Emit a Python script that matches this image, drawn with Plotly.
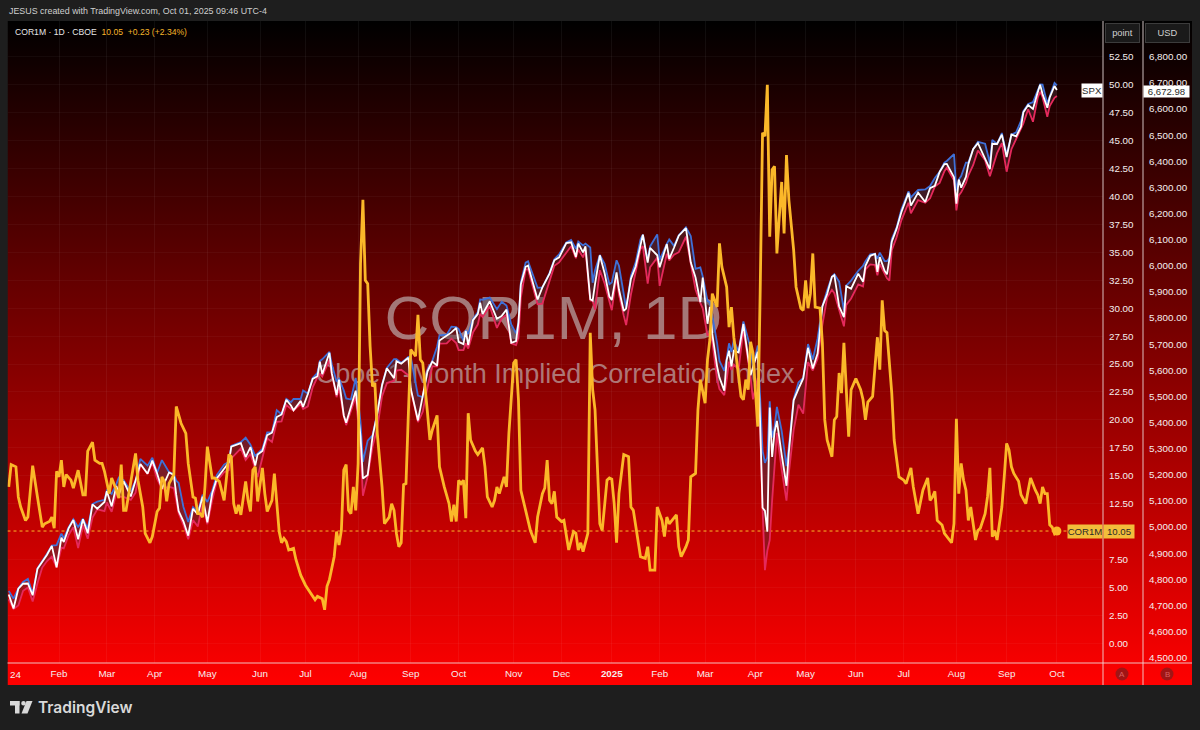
import base64
import pandas as pd
import plotly.graph_objects as go

# ---------------- DATA ----------------
holidays = ["2024-01-15", "2024-02-19", "2024-03-29", "2024-05-27", "2024-06-19", "2024-07-04",
            "2024-09-02", "2024-11-28", "2024-12-25", "2025-01-01", "2025-01-09", "2025-01-20",
            "2025-02-17", "2025-04-18", "2025-05-26", "2025-06-19", "2025-07-04", "2025-09-01"]
first_session = "2024-01-02"
last_session = "2025-10-01"

# COR1M: trading-session number (0 = 2024-01-02) and value (points)
cor1m_session = [
    0, 1, 3, 4, 5, 7, 8, 10, 12, 14,
    15, 17, 18, 19, 20, 21, 22, 23, 24, 26,
    27, 29, 31, 32, 33, 35, 36, 38, 39, 40,
    42, 43, 45, 46, 47, 48, 49, 51, 53, 54,
    56, 57, 59, 60, 62, 63, 64, 65, 66, 67,
    69, 70, 72, 74, 75, 77, 78, 79, 80, 81,
    82, 83, 84, 85, 86, 88, 90, 91, 92, 93,
    94, 95, 96, 97, 98, 99, 100, 101, 102, 103,
    104, 106, 107, 108, 110, 111, 113, 114, 115, 116,
    117, 119, 120, 122, 124, 126, 128, 129, 131, 132,
    133, 134, 136, 137, 138, 139, 140, 141, 142, 143,
    144, 145, 146, 147, 148, 149, 150, 151, 152, 153,
    154, 156, 157, 159, 160, 161, 162, 163, 164, 165,
    166, 167, 168, 170, 171, 172, 173, 175, 176, 177,
    179, 180, 182, 184, 185, 186, 187, 188, 189, 190,
    191, 192, 193, 195, 196, 198, 199, 200, 202, 203,
    204, 205, 207, 208, 209, 211, 212, 213, 214, 216,
    218, 220, 221, 223, 224, 225, 226, 227, 228, 229,
    231, 232, 233, 234, 236, 237, 238, 239, 240, 242,
    243, 244, 245, 246, 247, 248, 250, 251, 252, 253,
    254, 255, 256, 257, 259, 260, 261, 263, 264, 266,
    267, 268, 270, 271, 273, 274, 275, 276, 278, 279,
    280, 281, 283, 284, 285, 287, 288, 289, 291, 292,
    293, 294, 296, 297, 298, 300, 301, 302, 303, 305,
    306, 307, 308, 309, 310, 311, 312, 313, 314, 315,
    316, 317, 318, 319, 320, 321, 322, 323, 324, 325,
    326, 328, 329, 330, 331, 332, 333, 334, 335, 336,
    337, 339, 340, 341, 342, 344, 345, 346, 347, 348,
    349, 351, 352, 354, 356, 357, 358, 359, 361, 363,
    364, 365, 366, 367, 369, 370, 372, 374, 375, 377,
    378, 380, 382, 384, 385, 386, 387, 388, 390, 391,
    393, 394, 395, 396, 397, 398, 399, 400, 401, 402,
    404, 405, 406, 408, 409, 410, 411, 412, 413, 415,
    416, 417, 418, 419, 420, 422, 423, 425, 426, 427,
    429, 430, 431, 432, 433, 434, 435, 436, 437, 438,
]
cor1m_value = [
    14.0, 16.0, 15.8, 13.1, 12.2, 11.0, 11.3, 15.9, 13.1, 10.4,
    10.7, 10.9, 11.3, 10.3, 15.4, 14.9, 16.4, 14.0, 15.1, 14.6,
    13.9, 15.5, 13.3, 13.3, 17.2, 18.0, 16.4, 16.1, 16.1, 15.4,
    13.4, 14.8, 13.7, 13.0, 16.0, 11.9, 11.9, 14.6, 17.0, 14.6,
    12.2, 9.85, 9.0, 9.55, 11.8, 12.1, 14.9, 14.5, 12.7, 14.3,
    15.1, 21.2, 19.7, 18.8, 16.1, 13.1, 13.0, 11.6, 11.6, 11.3,
    14.0, 17.6, 16.0, 14.8, 14.8, 14.5, 12.8, 15.2, 16.9, 16.7,
    12.5, 11.6, 12.4, 11.5, 13.1, 14.5, 12.8, 11.8, 15.5, 15.8,
    12.7, 15.7, 13.4, 11.8, 12.8, 15.2, 10.0, 9.0, 9.4, 9.1,
    8.35, 8.5, 7.5, 6.1, 5.2, 4.5, 3.9, 4.2, 4.0, 3.0,
    5.1, 5.7, 7.75, 10.0, 8.8, 10.1, 15.5, 16.0, 11.9, 11.6,
    14.0, 11.9, 16.1, 34.0, 39.7, 32.5, 32.2, 26.6, 23.0, 23.3,
    18.8, 14.0, 10.7, 11.3, 12.5, 11.9, 9.85, 8.65, 9.0, 14.2,
    14.3, 20.6, 26.3, 25.7, 29.4, 25.4, 25.1, 20.6, 18.2, 19.1,
    20.4, 15.8, 14.0, 12.5, 10.9, 12.4, 10.9, 14.6, 14.3, 14.6,
    11.2, 20.6, 18.2, 17.2, 16.9, 17.5, 15.8, 13.1, 12.2, 12.8,
    14.0, 13.4, 14.9, 14.0, 18.8, 25.1, 25.4, 21.8, 13.7, 11.9,
    10.1, 9.0, 11.3, 13.4, 13.9, 16.4, 12.8, 12.5, 13.6, 11.3,
    10.9, 11.0, 9.85, 8.35, 10.0, 9.85, 8.35, 9.0, 8.2, 9.85,
    27.8, 22.7, 20.9, 16.1, 10.7, 10.1, 14.6, 14.8, 14.7, 12.5,
    9.0, 13.4, 15.2, 16.9, 16.7, 12.2, 11.9, 9.25, 7.75, 7.6,
    8.65, 6.55, 6.55, 12.2, 11.0, 9.55, 11.3, 10.7, 11.2, 11.5,
    8.65, 7.75, 8.65, 9.25, 14.9, 15.2, 20.9, 23.6, 21.5, 25.4,
    27.2, 31.3, 30.1, 35.8, 33.7, 31.9, 28.3, 30.1, 27.4, 23.6,
    22.1, 21.8, 23.6, 22.7, 27.0, 26.0, 22.4, 19.4, 31.3, 45.7,
    45.4, 50.0, 36.4, 42.4, 42.7, 34.9, 38.2, 41.3, 36.7, 43.7,
    39.7, 35.2, 31.9, 31.0, 30.0, 29.8, 32.5, 30.0, 31.3, 34.9,
    30.1, 30.0, 26.9, 20.0, 18.2, 16.7, 20.0, 20.3, 24.2, 22.4,
    26.9, 18.5, 22.7, 23.7, 22.7, 21.8, 20.0, 21.6, 22.1, 27.4,
    24.5, 30.7, 28.0, 27.8, 22.4, 18.2, 14.9, 14.6, 14.3, 15.7,
    14.0, 11.6, 13.7, 14.8, 12.8, 13.1, 13.6, 11.0, 10.6, 9.85,
    9.25, 9.0, 10.7, 20.1, 13.4, 16.1, 14.6, 13.7, 11.0, 12.2,
    9.25, 10.1, 10.3, 11.6, 13.1, 15.7, 9.55, 10.1, 9.25, 12.2,
    14.9, 17.9, 17.3, 15.8, 15.2, 14.5, 13.3, 12.5, 13.7, 14.8,
    13.7, 13.3, 12.5, 14.0, 13.4, 13.4, 10.6, 10.4, 9.82, 10.05,
]

# SPX (USD): date, close, high, low
spx_date = [
    "2024-01-02", "2024-01-04", "2024-01-08", "2024-01-10", "2024-01-12", "2024-01-17", "2024-01-19", "2024-01-23", "2024-01-25", "2024-01-29",
    "2024-01-31", "2024-02-02", "2024-02-05", "2024-02-07", "2024-02-09", "2024-02-13", "2024-02-15", "2024-02-20", "2024-02-22", "2024-02-26",
    "2024-02-29", "2024-03-01", "2024-03-05", "2024-03-07", "2024-03-08", "2024-03-12", "2024-03-15", "2024-03-19", "2024-03-21", "2024-03-26",
    "2024-03-28", "2024-04-02", "2024-04-04", "2024-04-09", "2024-04-11", "2024-04-12", "2024-04-15", "2024-04-17", "2024-04-19", "2024-04-23",
    "2024-04-25", "2024-04-29", "2024-05-01", "2024-05-03", "2024-05-07", "2024-05-10", "2024-05-14", "2024-05-15", "2024-05-21", "2024-05-23",
    "2024-05-28", "2024-05-30", "2024-05-31", "2024-06-04", "2024-06-06", "2024-06-10", "2024-06-12", "2024-06-14", "2024-06-18", "2024-06-21",
    "2024-06-24", "2024-06-27", "2024-06-28", "2024-07-02", "2024-07-05", "2024-07-09", "2024-07-10", "2024-07-11", "2024-07-16", "2024-07-17",
    "2024-07-19", "2024-07-22", "2024-07-24", "2024-07-25", "2024-07-29", "2024-07-31", "2024-08-02", "2024-08-05", "2024-08-07", "2024-08-09",
    "2024-08-13", "2024-08-15", "2024-08-19", "2024-08-22", "2024-08-23", "2024-08-27", "2024-08-30", "2024-09-03", "2024-09-06", "2024-09-10",
    "2024-09-12", "2024-09-16", "2024-09-18", "2024-09-19", "2024-09-24", "2024-09-26", "2024-09-30", "2024-10-01", "2024-10-03", "2024-10-04",
    "2024-10-07", "2024-10-09", "2024-10-11", "2024-10-14", "2024-10-15", "2024-10-18", "2024-10-23", "2024-10-25", "2024-10-29", "2024-10-31",
    "2024-11-04", "2024-11-05", "2024-11-06", "2024-11-08", "2024-11-11", "2024-11-15", "2024-11-19", "2024-11-22", "2024-11-26", "2024-11-29",
    "2024-12-04", "2024-12-06", "2024-12-10", "2024-12-11", "2024-12-13", "2024-12-16", "2024-12-18", "2024-12-19", "2024-12-20", "2024-12-24",
    "2024-12-27", "2024-12-31", "2025-01-02", "2025-01-06", "2025-01-07", "2025-01-10", "2025-01-13", "2025-01-15", "2025-01-17", "2025-01-22",
    "2025-01-23", "2025-01-27", "2025-01-28", "2025-01-31", "2025-02-03", "2025-02-06", "2025-02-07", "2025-02-11", "2025-02-13", "2025-02-19",
    "2025-02-21", "2025-02-25", "2025-02-27", "2025-02-28", "2025-03-04", "2025-03-05", "2025-03-06", "2025-03-10", "2025-03-11", "2025-03-13",
    "2025-03-14", "2025-03-17", "2025-03-18", "2025-03-19", "2025-03-21", "2025-03-25", "2025-03-28", "2025-03-31", "2025-04-02", "2025-04-03",
    "2025-04-04", "2025-04-07", "2025-04-08", "2025-04-09", "2025-04-10", "2025-04-11", "2025-04-14", "2025-04-16", "2025-04-21", "2025-04-22",
    "2025-04-24", "2025-04-28", "2025-04-30", "2025-05-02", "2025-05-06", "2025-05-08", "2025-05-12", "2025-05-14", "2025-05-16", "2025-05-19",
    "2025-05-21", "2025-05-23", "2025-05-27", "2025-05-29", "2025-06-03", "2025-06-05", "2025-06-06", "2025-06-10", "2025-06-12", "2025-06-13",
    "2025-06-16", "2025-06-18", "2025-06-20", "2025-06-23", "2025-06-24", "2025-06-26", "2025-06-30", "2025-07-03", "2025-07-07", "2025-07-10",
    "2025-07-15", "2025-07-17", "2025-07-21", "2025-07-23", "2025-07-25", "2025-07-28", "2025-07-31", "2025-08-01", "2025-08-04", "2025-08-05",
    "2025-08-07", "2025-08-08", "2025-08-12", "2025-08-14", "2025-08-19", "2025-08-21", "2025-08-22", "2025-08-26", "2025-08-28", "2025-09-02",
    "2025-09-04", "2025-09-08", "2025-09-10", "2025-09-11", "2025-09-15", "2025-09-17", "2025-09-19", "2025-09-22", "2025-09-23", "2025-09-25",
    "2025-09-26", "2025-09-30", "2025-10-01",
]
spx_close = [
    4742, 4688, 4764, 4783, 4784, 4739, 4840, 4865, 4894, 4928,
    4846, 4959, 4943, 4995, 5027, 4953, 5030, 4976, 5087, 5070,
    5096, 5137, 5079, 5157, 5124, 5175, 5117, 5178, 5241, 5204,
    5254, 5205, 5147, 5209, 5199, 5123, 5061, 5022, 4967, 5070,
    5048, 5116, 5018, 5128, 5187, 5223, 5247, 5308, 5321, 5268,
    5306, 5235, 5278, 5291, 5352, 5361, 5421, 5431, 5487, 5464,
    5447, 5483, 5460, 5509, 5567, 5577, 5633, 5585, 5667, 5588,
    5505, 5564, 5427, 5399, 5464, 5522, 5347, 5186, 5199, 5344,
    5434, 5543, 5608, 5570, 5635, 5625, 5648, 5529, 5408, 5496,
    5596, 5633, 5618, 5714, 5732, 5745, 5762, 5709, 5700, 5751,
    5696, 5792, 5815, 5859, 5815, 5864, 5797, 5808, 5832, 5705,
    5712, 5782, 5929, 5996, 6001, 5871, 5917, 5970, 6021, 6032,
    6087, 6090, 6034, 6085, 6051, 6074, 5872, 5867, 5931, 6040,
    5971, 5882, 5869, 5975, 5909, 5827, 5836, 5950, 5997, 6086,
    6119, 6012, 6068, 6040, 5994, 6083, 6026, 6069, 6115, 6144,
    6013, 5955, 5861, 5955, 5778, 5843, 5739, 5615, 5572, 5522,
    5639, 5675, 5615, 5675, 5668, 5777, 5581, 5612, 5671, 5397,
    5074, 5062, 4982, 5457, 5268, 5363, 5406, 5276, 5158, 5288,
    5485, 5529, 5569, 5686, 5607, 5664, 5844, 5892, 5958, 5964,
    5845, 5803, 5922, 5912, 5970, 5939, 6000, 6038, 6045, 5977,
    6033, 5981, 5967, 6025, 6092, 6141, 6205, 6279, 6230, 6280,
    6244, 6297, 6306, 6359, 6389, 6390, 6339, 6238, 6330, 6299,
    6340, 6389, 6446, 6469, 6412, 6370, 6467, 6466, 6502, 6416,
    6502, 6495, 6532, 6587, 6615, 6600, 6664, 6693, 6657, 6605,
    6644, 6688, 6672.98,
]
spx_high = [
    4755, 4726, 4765, 4790, 4802, 4745, 4842, 4868, 4898, 4929,
    4931, 4975, 4957, 4999, 5030, 4999, 5032, 4994, 5088, 5097,
    5104, 5140, 5127, 5165, 5189, 5179, 5136, 5179, 5261, 5235,
    5265, 5208, 5256, 5210, 5203, 5177, 5169, 5077, 5019, 5076,
    5057, 5124, 5096, 5139, 5200, 5239, 5250, 5311, 5325, 5342,
    5315, 5272, 5280, 5299, 5362, 5362, 5447, 5432, 5490, 5478,
    5490, 5490, 5523, 5510, 5571, 5590, 5635, 5642, 5670, 5623,
    5557, 5568, 5523, 5492, 5488, 5571, 5402, 5250, 5331, 5351,
    5436, 5546, 5609, 5643, 5643, 5628, 5651, 5651, 5503, 5497,
    5600, 5636, 5690, 5734, 5736, 5767, 5765, 5758, 5712, 5753,
    5739, 5796, 5822, 5871, 5870, 5878, 5834, 5862, 5848, 5775,
    5741, 5783, 5936, 6012, 6017, 5916, 5917, 5973, 6025, 6044,
    6089, 6099, 6065, 6093, 6078, 6085, 6070, 5935, 5982, 6041,
    6007, 5929, 5936, 6021, 6000, 5880, 5838, 5961, 6014, 6101,
    6119, 6022, 6074, 6120, 6022, 6084, 6101, 6076, 6117, 6147,
    6114, 5988, 5994, 5959, 5865, 5860, 5812, 5705, 5636, 5598,
    5645, 5703, 5670, 5716, 5670, 5787, 5685, 5612, 5695, 5500,
    5292, 5246, 5267, 5481, 5343, 5381, 5460, 5368, 5233, 5309,
    5489, 5553, 5571, 5700, 5641, 5721, 5845, 5906, 5959, 5968,
    5939, 5829, 5924, 5943, 5981, 6000, 6017, 6044, 6046, 6027,
    6050, 6018, 6018, 6029, 6102, 6146, 6215, 6285, 6262, 6290,
    6292, 6305, 6336, 6360, 6395, 6401, 6427, 6288, 6330, 6343,
    6395, 6395, 6446, 6474, 6467, 6393, 6482, 6466, 6508, 6425,
    6502, 6511, 6555, 6592, 6619, 6626, 6671, 6694, 6693, 6620,
    6648, 6700, 6690,
]
spx_low = [
    4723, 4687, 4700, 4756, 4769, 4715, 4785, 4845, 4870, 4887,
    4845, 4921, 4918, 4969, 4999, 4920, 5007, 4955, 5036, 5068,
    5061, 5094, 5058, 5131, 5117, 5115, 5104, 5132, 5241, 5203,
    5246, 5184, 5146, 5154, 5149, 5107, 5053, 5008, 4953, 5027,
    5002, 5089, 5011, 5101, 5178, 5210, 5218, 5263, 5301, 5257,
    5280, 5223, 5191, 5265, 5340, 5326, 5403, 5404, 5467, 5452,
    5446, 5471, 5452, 5462, 5535, 5574, 5587, 5576, 5640, 5586,
    5497, 5533, 5426, 5390, 5444, 5500, 5306, 5120, 5195, 5307,
    5379, 5501, 5551, 5560, 5599, 5602, 5581, 5527, 5402, 5441,
    5535, 5615, 5615, 5702, 5703, 5721, 5704, 5677, 5677, 5703,
    5683, 5745, 5775, 5816, 5804, 5846, 5762, 5799, 5812, 5703,
    5696, 5725, 5878, 5985, 5987, 5853, 5855, 5944, 6000, 6013,
    6050, 6075, 6029, 6062, 6032, 6060, 5867, 5866, 5832, 5983,
    5932, 5868, 5830, 5961, 5890, 5809, 5773, 5890, 5978, 6065,
    6075, 5932, 5994, 6031, 5923, 6046, 6020, 6042, 6052, 6111,
    6009, 5909, 5858, 5837, 5733, 5743, 5711, 5565, 5528, 5505,
    5563, 5633, 5601, 5622, 5603, 5757, 5572, 5489, 5571, 5390,
    5069, 4835, 4910, 4950, 5102, 5220, 5360, 5220, 5101, 5207,
    5372, 5468, 5434, 5631, 5599, 5644, 5774, 5879, 5908, 5895,
    5830, 5768, 5850, 5875, 5929, 5921, 5986, 6005, 6003, 5963,
    6006, 5971, 5952, 5943, 6060, 6108, 6174, 6241, 6201, 6251,
    6241, 6258, 6303, 6317, 6362, 6375, 6327, 6212, 6269, 6281,
    6317, 6346, 6385, 6441, 6404, 6343, 6371, 6431, 6469, 6360,
    6446, 6486, 6522, 6545, 6599, 6551, 6643, 6666, 6645, 6570,
    6611, 6643, 6650,
]

# 10.00 is covered by the last-value label in the reference, so it is not listed
point_ticks = [0, 2.5, 5, 7.5, 12.5, 15, 17.5, 20, 22.5, 25, 27.5, 30, 32.5, 35, 37.5,
               40, 42.5, 45, 47.5, 50, 52.5]
usd_ticks = [4500, 4600, 4700, 4800, 4900, 5000, 5100, 5200, 5300, 5400, 5500, 5600,
             5700, 5800, 5900, 6000, 6100, 6200, 6300, 6400, 6500, 6600, 6700, 6800]

last_cor1m_text = "10.05"
last_spx_text = "6,672.98"

# ---------------- GEOMETRY / STYLE ----------------
W, H = 1200, 730
PANE_L, PANE_R, PANE_T, PANE_B = 7.5, 1103, 21, 663
COL2, RIGHT, BOTTOM = 1143, 1192, 685

def px(x):
    return x / W

def py(y):
    return 1 - y / H

ORANGE = "#fbb829"
FAM = "Liberation Sans, Arial, sans-serif"
TICK_FONT = dict(family=FAM, size=9.8, color="#f4eeee")

# trading calendar -> bar positions
sessions = pd.bdate_range(first_session, last_session)
sessions = sessions[~sessions.isin(pd.to_datetime(holidays))]
spx_x = [int(sessions.searchsorted(pd.Timestamp(d))) for d in spx_date]

month_idx, month_lbl = [], []
for i, d in enumerate(sessions):
    if i > 0 and d.month != sessions[i - 1].month:
        month_idx.append(i)
        month_lbl.append(f"<b>{d.year}</b>" if d.month == 1 else d.strftime("%b"))

# point-scale labels: pad short ones with a figure space so the column reads left-aligned
point_text = [f"{v:.2f}" + ("\u2007" if v < 10 else "") for v in point_ticks]

x_range = [-0.52, 457.27]
usd_range = [4479.7, 6936.7]
point_range = [-1.764, 55.71]

# ---------------- FIGURE ----------------
fig = go.Figure()

wm_color = "rgba(200,200,200,0.6)"
fig.add_trace(go.Scatter(x=[227.6], y=[5780], mode="text", text=["COR1M, 1D"],
                         textfont=dict(size=62, color=wm_color, family=FAM),
                         hoverinfo="skip", xaxis="x", yaxis="y"))
fig.add_trace(go.Scatter(x=[228.3], y=[5578], mode="text", text=["Cboe 1-Month Implied Correlation Index"],
                         textfont=dict(size=27, color=wm_color, family=FAM),
                         hoverinfo="skip", xaxis="x", yaxis="y"))

# SPX as HLC area
fig.add_trace(go.Scatter(x=spx_x, y=spx_high, mode="lines", line=dict(color="#3f70d8", width=1.8),
                         hoverinfo="skip", xaxis="x", yaxis="y"))
fig.add_trace(go.Scatter(x=spx_x, y=spx_close, mode="lines", line=dict(width=0), fill="tonexty",
                         fillcolor="rgba(60,60,85,0.45)", hoverinfo="skip", xaxis="x", yaxis="y"))
fig.add_trace(go.Scatter(x=spx_x, y=spx_low, mode="lines", line=dict(color="#e5295c", width=1.8),
                         fill="tonexty", fillcolor="rgba(80,45,55,0.45)", hoverinfo="skip", xaxis="x", yaxis="y"))
fig.add_trace(go.Scatter(x=spx_x, y=spx_close, mode="lines", line=dict(color="#ffffff", width=1.8),
                         hoverinfo="skip", xaxis="x", yaxis="y"))

# COR1M
fig.add_trace(go.Scatter(x=cor1m_session, y=cor1m_value, mode="lines",
                         line=dict(color=ORANGE, width=2.8), hoverinfo="skip", xaxis="x", yaxis="y2"))
fig.add_trace(go.Scatter(x=[cor1m_session[-1]], y=[cor1m_value[-1]], mode="markers",
                         marker=dict(size=9, color=ORANGE), hoverinfo="skip", xaxis="x", yaxis="y2"))

# background gradient (black -> red)
svg = ('<svg xmlns="http://www.w3.org/2000/svg" width="10" height="100" viewBox="0 0 10 100" '
       'preserveAspectRatio="none"><defs><linearGradient id="g" x1="0" y1="0" x2="0" y2="1">'
       '<stop offset="0" stop-color="#000000"/><stop offset="1" stop-color="#ff0000"/>'
       '</linearGradient></defs><rect x="0" y="0" width="10" height="100" fill="url(#g)"/></svg>')
svg_uri = "data:image/svg+xml;base64," + base64.b64encode(svg.encode()).decode()

shapes = []
line_col = "rgba(240,225,225,0.85)"
shapes.append(dict(type="line", xref="paper", yref="paper", x0=px(PANE_R), x1=px(PANE_R),
                   y0=py(PANE_T), y1=py(BOTTOM), line=dict(color=line_col, width=1)))
shapes.append(dict(type="line", xref="paper", yref="paper", x0=px(COL2), x1=px(COL2),
                   y0=py(PANE_T), y1=py(BOTTOM), line=dict(color=line_col, width=1)))
shapes.append(dict(type="line", xref="paper", yref="paper", x0=px(PANE_L), x1=px(RIGHT),
                   y0=py(PANE_B), y1=py(PANE_B), line=dict(color=line_col, width=1)))
# dotted last-value line of COR1M
shapes.append(dict(type="line", xref="x", yref="y2", x0=x_range[0], x1=x_range[1],
                   y0=cor1m_value[-1], y1=cor1m_value[-1], layer="below",
                   line=dict(color=ORANGE, width=1, dash="dot")))
# A / B scale buttons
for cx in (1122, 1167):
    shapes.append(dict(type="circle", xref="paper", yref="paper",
                       x0=px(cx - 6.5), x1=px(cx + 6.5), y0=py(674 + 6.5), y1=py(674 - 6.5),
                       fillcolor="#a01515", line=dict(width=0)))
# TradingView logo
logo_col = "#d9d9d9"
def rect(x0, y0, x1, y1):
    return dict(type="rect", xref="paper", yref="paper", x0=px(x0), x1=px(x1), y0=py(y1), y1=py(y0),
                fillcolor=logo_col, line=dict(width=0))
shapes.append(rect(10, 701, 19.5, 705.5))
shapes.append(rect(15, 701, 19.5, 713.5))
shapes.append(dict(type="circle", xref="paper", yref="paper", x0=px(21.2), x1=px(25.8),
                   y0=py(705.6), y1=py(701), fillcolor=logo_col, line=dict(width=0)))
shapes.append(dict(type="path", xref="paper", yref="paper",
                   path=f"M {px(26.5)},{py(701)} L {px(32.5)},{py(701)} L {px(27.5)},{py(713.5)} L {px(21.5)},{py(713.5)} Z",
                   fillcolor=logo_col, line=dict(width=0)))

annotations = []
def ann(text, x, y, **kw):
    d = dict(text=text, x=px(x), y=py(y), xref="paper", yref="paper", showarrow=False,
             xanchor=kw.pop("xanchor", "center"), yanchor=kw.pop("yanchor", "middle"))
    d.update(kw)
    annotations.append(d)

ann("JESUS created with TradingView.com, Oct 01, 2025 09:46 UTC-4", 7, 11, xanchor="left",
    font=dict(family=FAM, size=8.9, color="#cfcfcf"))
ann("COR1M · 1D · CBOE  <span style='color:#f5b52a'>10.05  +0.23 (+2.34%)</span>", 13, 32, xanchor="left",
    font=dict(family=FAM, size=8.6, color="#e6e6e6"))
ann("24", 7.5, 674, xanchor="left", font=TICK_FONT)
# scale header buttons
ann("point", 1122, 33, width=33, height=18, bgcolor="#1a1a1a", bordercolor="#3c3c3c", borderwidth=1,
    borderpad=0, font=dict(family=FAM, size=9.3, color="#d0d0d0"))
ann("USD", 1167, 33, width=43, height=18, bgcolor="#1a1a1a", bordercolor="#3c3c3c", borderwidth=1,
    borderpad=0, font=dict(family=FAM, size=9.3, color="#d0d0d0"))
# last value labels
lab_font = dict(family=FAM, size=9.6, color="#2a2a2a")
ann("COR1M", 1085, 531, width=34, height=13, bgcolor="#f2bd3b", borderpad=0, font=lab_font)
ann(last_cor1m_text, 1118.5, 531, width=30, height=13, bgcolor="#f2bd3b", borderpad=0, font=lab_font)
ann("SPX", 1091.5, 91, width=20, height=13, bgcolor="#ffffff", borderpad=0, font=lab_font)
ann(last_spx_text, 1166, 91.5, width=45, height=11, bgcolor="#ffffff", borderpad=0, font=lab_font)
# A / B letters
ann("A", 1122, 674.5, font=dict(family=FAM, size=8, color="#d86060"))
ann("B", 1167, 674.5, font=dict(family=FAM, size=8, color="#d86060"))
# TradingView wordmark
ann("TradingView", 36, 707.5, xanchor="left",
    font=dict(family="Inter, Roboto, Arial, sans-serif", size=15.5, color=logo_col, weight=600))

fig.update_layout(
    width=W, height=H, margin=dict(l=0, r=0, t=0, b=0, pad=0),
    paper_bgcolor="#1e1e1e", plot_bgcolor="rgba(0,0,0,0)", showlegend=False, hovermode=False,
    images=[dict(source=svg_uri, xref="paper", yref="paper", x=px(PANE_L), y=py(PANE_T),
                 sizex=px(RIGHT) - px(PANE_L), sizey=py(PANE_T) - py(BOTTOM),
                 xanchor="left", yanchor="top", sizing="stretch", layer="below")],
    xaxis=dict(domain=[px(PANE_L), px(PANE_R)], range=x_range, tickvals=month_idx, ticktext=month_lbl,
               showgrid=True, gridcolor="rgba(255,255,255,0.05)", gridwidth=1, zeroline=False,
               showline=False, ticks="", ticklabelstandoff=3, tickfont=TICK_FONT, anchor="y",
               fixedrange=True),
    yaxis=dict(domain=[py(PANE_B), py(PANE_T)], range=usd_range, side="right", anchor="free",
               position=px(COL2), tickvals=usd_ticks, tickformat=",.2f", showgrid=False,
               zeroline=False, showline=False, ticks="outside", ticklen=3,
               tickcolor="rgba(0,0,0,0)", tickfont=TICK_FONT, fixedrange=True),
    yaxis2=dict(overlaying="y", side="right", anchor="x", range=point_range, tickvals=point_ticks,
                ticktext=point_text, showgrid=True, gridcolor="rgba(255,255,255,0.035)", zeroline=False,
                showline=False, ticks="", ticklabelstandoff=5, tickfont=TICK_FONT, fixedrange=True),
    shapes=shapes, annotations=annotations,
)

fig.write_html("out.html", include_plotlyjs=True, config={"displayModeBar": False},
               post_script="document.body.style.margin='0';document.body.style.overflow='hidden';")
